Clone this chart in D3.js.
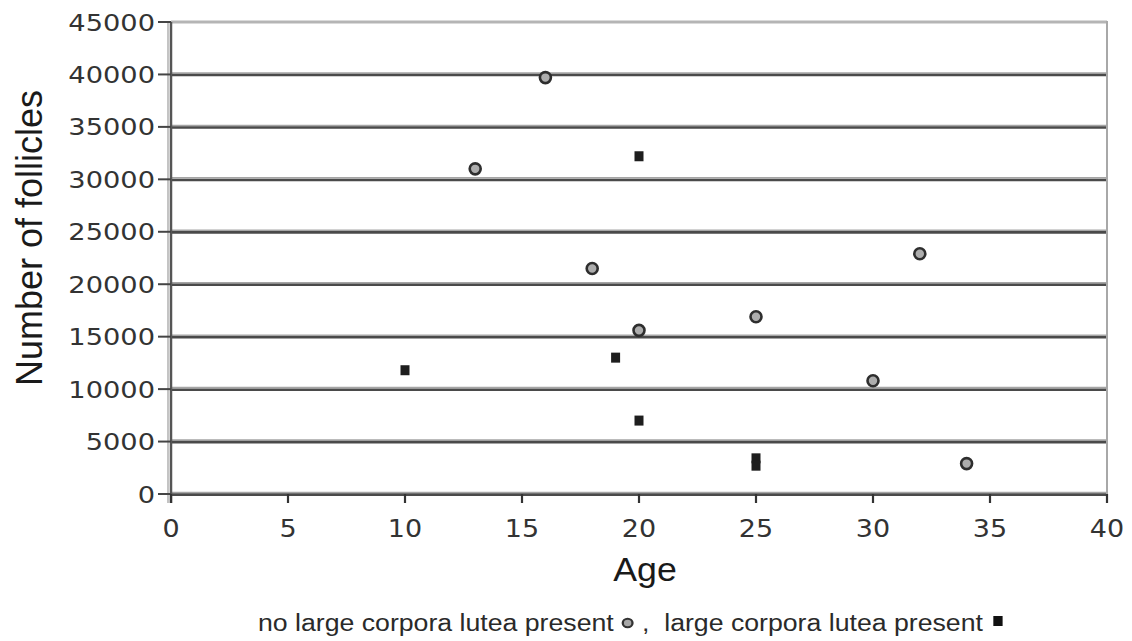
<!DOCTYPE html>
<html><head><meta charset="utf-8">
<script src="https://cdn.jsdelivr.net/npm/d3@7"></script>
<style>html,body{margin:0;padding:0;background:#fff}svg{display:block}</style>
</head><body>
<svg id="chart" width="1132" height="641"></svg>
<script>
// Data
const noCLAge = [13, 16, 18, 20, 25, 30, 32, 34];
const noCLFollicles = [31000, 39700, 21500, 15600, 16900, 10800, 22900, 2900];
const clAge = [10, 19, 20, 20, 25, 25];
const clFollicles = [11800, 13000, 32200, 7000, 3400, 2700];
const xTicks = [0, 5, 10, 15, 20, 25, 30, 35, 40];
const yTicks = [0, 5000, 10000, 15000, 20000, 25000, 30000, 35000, 40000, 45000];
const xTitle = "Age";
const yTitle = "Number of follicles";
const legendA = "no large corpora lutea present";
const legendB = " ,  large corpora lutea present";

const svg = d3.select("#chart");
const x = d3.scaleLinear().domain([0, 40]).range([171, 1107]);
const y = d3.scaleLinear().domain([0, 45000]).range([494, 22]);

// gridlines
const g = svg.append("g");
yTicks.forEach(v => {
  if (v === 45000) {
    g.append("line").attr("x1", x(0)).attr("x2", x(40)).attr("y1", y(v)).attr("y2", y(v))
      .attr("stroke", "#b5b5b5").attr("stroke-width", 3);
  } else {
    g.append("line").attr("x1", x(0)).attr("x2", x(40)).attr("y1", y(v) - 1.5).attr("y2", y(v) - 1.5)
      .attr("stroke", "#a5a5a5").attr("stroke-width", 1.5);
    g.append("line").attr("x1", x(0)).attr("x2", x(40)).attr("y1", y(v) + 0.6).attr("y2", y(v) + 0.6)
      .attr("stroke", "#4a4a4a").attr("stroke-width", 2.6);
  }
});
// right border
g.append("line").attr("x1", x(40)).attr("x2", x(40)).attr("y1", y(45000) - 1).attr("y2", y(0) + 9)
  .attr("stroke", "#a8a8a8").attr("stroke-width", 2);
// left axis
g.append("line").attr("x1", x(0) - 3).attr("x2", x(0) - 3).attr("y1", y(45000)).attr("y2", y(0) + 9)
  .attr("stroke", "#c4c4c4").attr("stroke-width", 2);
g.append("line").attr("x1", x(0)).attr("x2", x(0)).attr("y1", y(45000)).attr("y2", y(0) + 9)
  .attr("stroke", "#555").attr("stroke-width", 2.5);

// y ticks + labels
yTicks.forEach(v => {
  g.append("line").attr("x1", x(0) - 13).attr("x2", x(0)).attr("y1", y(v)).attr("y2", y(v))
    .attr("stroke", "#444").attr("stroke-width", 2);
  g.append("text").attr("transform", `translate(${x(0) - 16},${y(v) + 8.5}) scale(1.16,1)`)
    .attr("text-anchor", "end").attr("font-family", "DejaVu Sans").attr("font-size", 23.5)
    .attr("fill", "#333").text(v);
});
// x ticks + labels
xTicks.forEach(v => {
  g.append("line").attr("x1", x(v)).attr("x2", x(v)).attr("y1", y(0)).attr("y2", y(0) + 9)
    .attr("stroke", "#333").attr("stroke-width", 2.2);
  g.append("text").attr("transform", `translate(${x(v)},${y(0) + 43}) scale(1.08,1)`)
    .attr("text-anchor", "middle").attr("font-family", "DejaVu Sans").attr("font-size", 25)
    .attr("fill", "#333").text(v);
});

// titles
svg.append("text").attr("transform", `translate(${x(20) + 6},${581}) scale(1.05,1)`)
  .attr("text-anchor", "middle").attr("font-family", "Liberation Sans").attr("font-size", 34)
  .attr("fill", "#1a1a1a").text(xTitle);
svg.append("text").attr("transform", `translate(42,238) rotate(-90)`)
  .attr("text-anchor", "middle").attr("font-family", "Liberation Sans").attr("font-size", 36)
  .attr("fill", "#1a1a1a").text(yTitle);

// points
svg.append("g").selectAll("circle").data(noCLAge.map((a, i) => [a, noCLFollicles[i]])).join("circle")
  .attr("cx", d => x(d[0])).attr("cy", d => y(d[1])).attr("r", 5.5)
  .attr("fill", "#adadad").attr("stroke", "#2e2e2e").attr("stroke-width", 2.6);
svg.append("g").selectAll("rect").data(clAge.map((a, i) => [a, clFollicles[i]])).join("rect")
  .attr("x", d => x(d[0]) - 4.5).attr("y", d => y(d[1]) - 5).attr("width", 9).attr("height", 10)
  .attr("fill", "#1e1e1e");

// legend
const leg = svg.append("g").attr("transform", "translate(258,631) scale(1.16,1)");
const t1 = leg.append("text").attr("font-family", "Liberation Sans").attr("font-size", 23)
  .attr("fill", "#2a2a2a").text(legendA);
let w1 = t1.node().getComputedTextLength();
leg.append("circle").attr("cx", w1 + 12).attr("cy", -8).attr("r", 4.2)
  .attr("fill", "#a8a8a8").attr("stroke", "#333").attr("stroke-width", 2);
const t2 = leg.append("text").attr("x", w1 + 18).attr("font-family", "Liberation Sans").attr("font-size", 23)
  .attr("fill", "#2a2a2a").attr("xml:space", "preserve").style("white-space", "pre").text(legendB);
let w2 = t2.node().getComputedTextLength();
leg.append("rect").attr("x", w1 + 18 + w2 + 9).attr("y", -15).attr("width", 8).attr("height", 10)
  .attr("fill", "#111");
</script>
</body></html>
